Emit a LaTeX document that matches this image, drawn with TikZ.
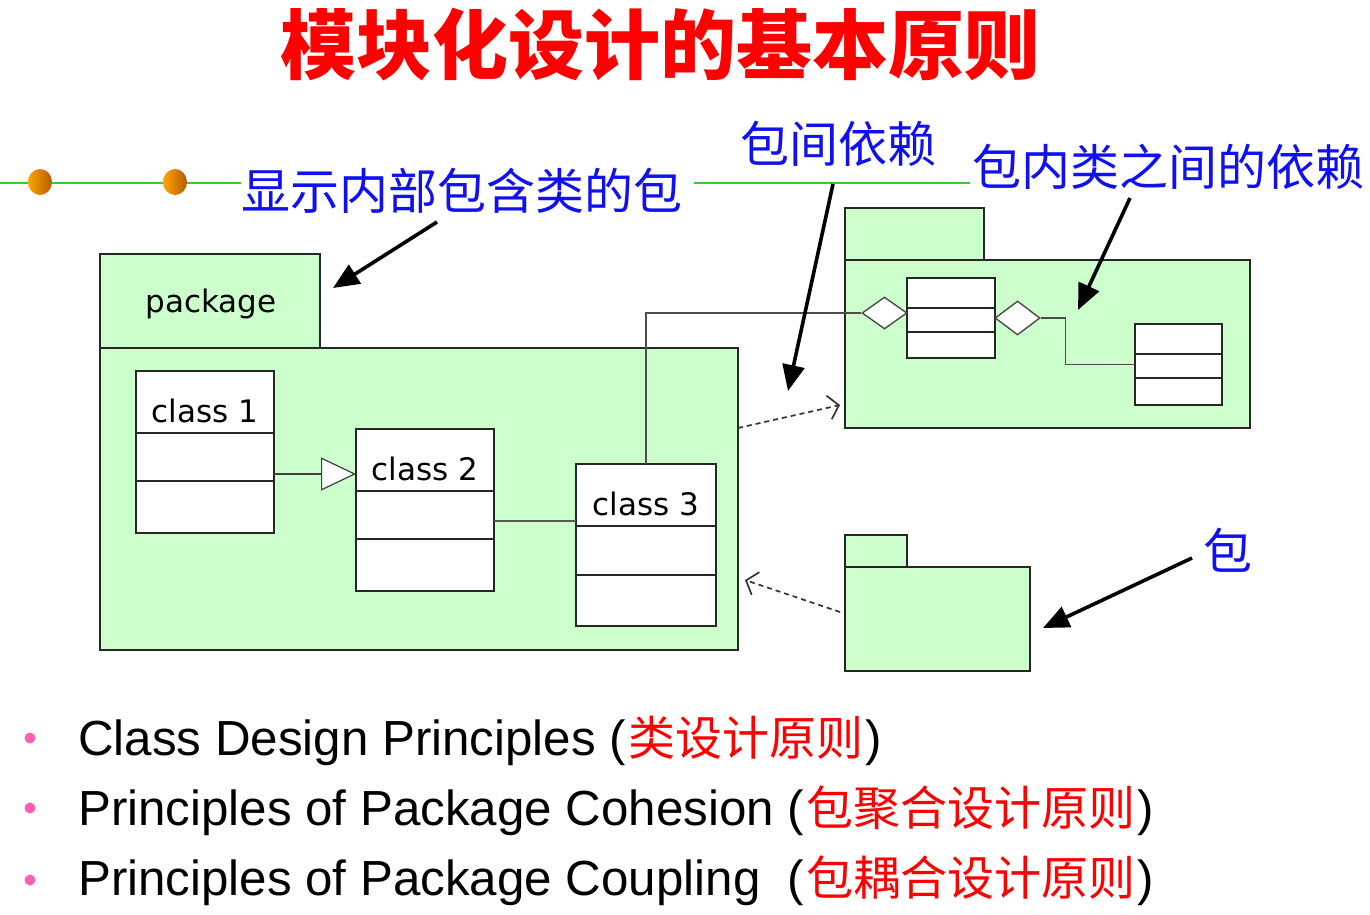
\documentclass[tikz,border=0pt]{standalone}
\usepackage{fontspec}
\setmainfont{Liberation Sans}
\newfontfamily\cjk{Noto Sans CJK SC}
\newfontfamily\umlf{DejaVu Sans}
\usetikzlibrary{arrows.meta,shapes.geometric,calc}
\definecolor{pkgfill}{HTML}{CCFFCC}
\definecolor{gline}{HTML}{33CC33}
\definecolor{bpink}{HTML}{FF5FB4}
\definecolor{lblue}{HTML}{1010F0}
\newcommand{\zhred}[1]{{\cjk\fontsize{47}{47}\selectfont\color{red}\kern2pt#1\kern2pt}}
\begin{document}
\begin{tikzpicture}[x=1pt,y=-1pt,
  pkg/.style={draw=black!85, line width=1.6pt, fill=pkgfill, inner sep=0pt, outer sep=0pt},
  cls/.style={draw=black!85, line width=1.6pt, fill=white, inner sep=0pt, outer sep=0pt},
  div/.style={black!85, line width=1.6pt},
  lbl/.style={font=\umlf\fontsize{31}{31}\selectfont, inner sep=0pt},
  note/.style={font=\cjk\fontsize{49}{49}\selectfont, text=lblue, inner sep=0pt},
  callout/.style={line width=3.6pt, -{Triangle[length=26pt,width=22pt]}},
  dep/.style={line width=1.7pt, black!80, dash pattern=on 5pt off 4pt, -{Straight Barb[length=10pt,width=24pt]}},
  conn/.style={line width=1.4pt, black!70},
  ball/.style={ellipse, minimum width=24pt, minimum height=26pt, inner sep=0pt, left color=orange!70!yellow, right color=orange!70!black, draw=none},
  bullet/.style={circle, fill=bpink, minimum size=11pt, inner sep=0pt},
  item/.style={font=\fontsize{49.3}{49.3}\selectfont, inner sep=0pt, anchor=base west}
]
\useasboundingbox (0,0) rectangle (1370,914);

% title
\node[font=\cjk\bfseries\fontsize{76}{76}\selectfont, text=red, inner sep=0pt, anchor=base] (title) at (660,73) {模块化设计的基本原则};

% labels
\node[note, anchor=base west] (n1) at (241,209) {显示内部包含类的包};
\node[note, anchor=base west] (n2) at (740,162) {包间依赖};
\node[note, anchor=base west] (n3) at (972,185) {包内类之间的依赖};
\node[note, anchor=base west] (n4) at (1203,569) {包};

% green rule with balls
\coordinate (g0) at (0,183);
\coordinate (g3) at (970,183);
\draw[gline, line width=2.5pt] (g0) -- (n1.west |- g0);
\draw[gline, line width=2.5pt] (n1.east |- g0) ++(12,0) -- (g3);
\node[ball] (b1) at (40,182) {};
\node[ball] (b2) at (175,182) {};

% package 1
\node[pkg, anchor=north west, minimum width=638pt, minimum height=302pt] (p1) at (100,348) {};
\node[pkg, anchor=south west, minimum width=220pt, minimum height=94pt] (p1tab) at (100,348) {};
\node[lbl, anchor=base] (p1lbl) at (211,312) {package};

% classes in package 1
\node[cls, anchor=north west, minimum width=138pt, minimum height=162pt] (c1) at (136,371) {};
\draw[div] ([yshift=-62pt]c1.north west) -- ([yshift=-62pt]c1.north east);
\draw[div] ([yshift=-110pt]c1.north west) -- ([yshift=-110pt]c1.north east);
\node[lbl, anchor=base] (c1lbl) at (205,422) {class 1};

\node[cls, anchor=north west, minimum width=138pt, minimum height=162pt] (c2) at (356,429) {};
\draw[div] ([yshift=-62pt]c2.north west) -- ([yshift=-62pt]c2.north east);
\draw[div] ([yshift=-110pt]c2.north west) -- ([yshift=-110pt]c2.north east);
\node[lbl, anchor=base] (c2lbl) at (425,480) {class 2};

\node[cls, anchor=north west, minimum width=140pt, minimum height=162pt] (c3) at (576,464) {};
\draw[div] ([yshift=-62pt]c3.north west) -- ([yshift=-62pt]c3.north east);
\draw[div] ([yshift=-111pt]c3.north west) -- ([yshift=-111pt]c3.north east);
\node[lbl, anchor=base] (c3lbl) at (646,515) {class 3};

% generalization class1 -> class2
\draw[line width=1.8pt, black!75, -{Triangle[length=35pt,width=33pt,fill=white,line width=1.2pt]}]
  ([yshift=-22pt]c1.east) -- ([yshift=-22pt]c1.east -| c2.west);
% association class2 - class3
\draw[line width=1.8pt, black!65] ([yshift=-11pt]c2.east) -- ([yshift=-11pt]c2.east -| c3.west);

% package 2
\node[pkg, anchor=north west, minimum width=405pt, minimum height=168pt] (p2) at (845,260) {};
\node[pkg, anchor=south west, minimum width=139pt, minimum height=52pt] (p2tab) at (845,260) {};
\draw[line width=2.6pt, black!85] (p2tab.south west) -- (p2tab.south east);
\node[cls, anchor=north west, minimum width=88pt, minimum height=80pt] (ca) at (907,278) {};
\draw[div] ([yshift=-30pt]ca.north west) -- ([yshift=-30pt]ca.north east);
\draw[div] ([yshift=-54pt]ca.north west) -- ([yshift=-54pt]ca.north east);
\node[cls, anchor=north west, minimum width=87pt, minimum height=81pt] (cb) at (1135,324) {};
\draw[div] ([yshift=-30pt]cb.north west) -- ([yshift=-30pt]cb.north east);
\draw[div] ([yshift=-54pt]cb.north west) -- ([yshift=-54pt]cb.north east);
\node[diamond, draw=black!70, line width=1.4pt, fill=white, minimum width=45pt, minimum height=32pt, inner sep=0pt] (d1) at (884.5,313) {};
\node[diamond, draw=black!70, line width=1.4pt, fill=white, minimum width=45pt, minimum height=34pt, inner sep=0pt] (d2) at (1017.5,318) {};

% aggregations
\draw[conn] (c3.north) |- (d1.west);
\draw[conn] (d2.east) -- ++(25,0) |- (cb.west);

% package 3
\node[pkg, anchor=north west, minimum width=185pt, minimum height=104pt] (p3) at (845,567) {};
\node[pkg, anchor=south west, minimum width=62pt, minimum height=32pt] (p3tab) at (845,567) {};

% dependencies
\draw[dep] ([yshift=71pt]p1.east) -- ([shift={(-5pt,23pt)}]p2.south west);
\draw[dep] ([shift={(-5pt,7pt)}]p3.west) -- ([shift={(7pt,-81pt)}]p1.east);

% callout arrows
\coordinate (a1s) at (437,222);
\coordinate (a1e) at (333,288);
\draw[callout] (a1s) -- (a1e);
\coordinate (a2s) at (833,184);
\coordinate (a2e) at (788,391);
\draw[callout] (a2s) -- (a2e);
\coordinate (a3s) at (1130,198);
\coordinate (a3e) at (1078,310);
\draw[callout] (a3s) -- (a3e);
\coordinate (a4s) at (1192,558);
\coordinate (a4e) at (1043,628);
\draw[callout] (a4s) -- (a4e);

% bullet list
\node[bullet] (bu1) at (30,738) {};
\node[bullet] (bu2) at (30,808) {};
\node[bullet] (bu3) at (30,880) {};
\node[item] (i1) at (78,755) {Class Design Principles (\zhred{类设计原则})};
\node[item] (i2) at (78,825) {Principles of Package Cohesion (\zhred{包聚合设计原则})};
\node[item] (i3) at (78,895) {Principles of Package Coupling\ \ (\zhred{包耦合设计原则})};
\end{tikzpicture}
\end{document}
